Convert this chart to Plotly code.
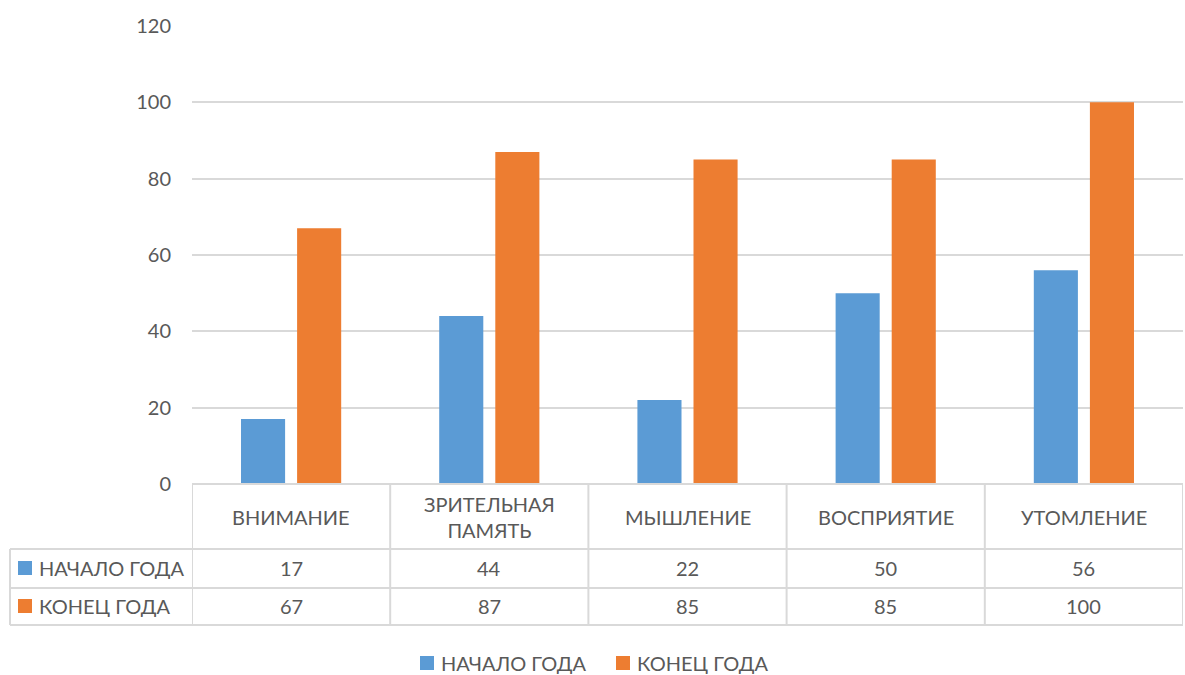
import plotly.graph_objects as go

categories = ["ВНИМАНИЕ", "ЗРИТЕЛЬНАЯ ПАМЯТЬ", "МЫШЛЕНИЕ", "ВОСПРИЯТИЕ", "УТОМЛЕНИЕ"]
series_names = ["НАЧАЛО ГОДА", "КОНЕЦ ГОДА"]
start_values = [17, 44, 22, 50, 56]
end_values = [67, 87, 85, 85, 100]
y_ticks = [0, 20, 40, 60, 80, 100, 120]

colors = ["#5B9BD5", "#ED7D31"]
TXT = "#595959"
GRID = "#D9D9D9"
FONT = "Lato"
FS = 20

W, H = 1185, 675
# plot area in reference pixels
L, R, T, B = 192, 1183, 26, 484


def px(x):
    return (x - L) / (R - L)


def py(y):
    return (B - y) / (B - T)


fig = go.Figure()
for name, vals, c in zip(series_names, [start_values, end_values], colors):
    fig.add_trace(go.Bar(x=list(range(len(categories))), y=vals, name=name,
                         marker=dict(color=c, line=dict(width=0))))

shapes = []
line = dict(color=GRID, width=2)
shapes.append(dict(type="line", xref="paper", yref="paper", x0=0, x1=1,
                   y0=py(484), y1=py(484), line=line, layer="above"))
for i in range(len(categories) + 1):
    shapes.append(dict(type="line", xref="x", yref="paper", x0=i - 0.5, x1=i - 0.5,
                       y0=py(484), y1=py(625), line=line))
shapes.append(dict(type="line", xref="paper", yref="paper", x0=px(10), x1=px(10),
                   y0=py(549), y1=py(625), line=line))
for yy in (549, 588, 625):
    shapes.append(dict(type="line", xref="paper", yref="paper", x0=px(10), x1=1,
                       y0=py(yy), y1=py(yy), line=line))

annotations = []
# header row with category names
for i, cat in enumerate(categories):
    text = cat.replace(" ", "<br>") if len(cat) > 12 else cat
    annotations.append(dict(x=i, xref="x", y=py(517), yref="paper", text=text,
                            showarrow=False, xanchor="center", yanchor="middle",
                            font=dict(family=FONT, size=FS, color=TXT)))
# data-table rows
row_centers = [568, 606]
for name, vals, c, rc in zip(series_names, [start_values, end_values], colors, row_centers):
    shapes.append(dict(type="rect", xref="paper", yref="paper", x0=px(18), x1=px(32),
                       y0=py(rc - 7), y1=py(rc + 7), fillcolor=c, line=dict(width=0)))
    annotations.append(dict(x=px(37), xref="paper", y=py(rc), yref="paper", text=name,
                            showarrow=False, xanchor="left", yanchor="middle",
                            font=dict(family=FONT, size=FS, color=TXT)))
    for i, v in enumerate(vals):
        annotations.append(dict(x=i, xref="x", y=py(rc), yref="paper", text=str(v),
                                showarrow=False, xanchor="center", yanchor="middle",
                                font=dict(family=FONT, size=FS, color=TXT)))

# bottom legend (drawn so it does not push the plot margins)
legend_x = [420, 616]
LEG_Y = 663
for name, c, lx in zip(series_names, colors, legend_x):
    shapes.append(dict(type="rect", xref="paper", yref="paper", x0=px(lx), x1=px(lx + 14),
                       y0=py(LEG_Y - 7), y1=py(LEG_Y + 7), fillcolor=c, line=dict(width=0)))
    annotations.append(dict(x=px(lx + 19), xref="paper", y=py(LEG_Y), yref="paper", text=name,
                            showarrow=False, xanchor="left", yanchor="middle",
                            font=dict(family=FONT, size=FS, color=TXT)))

fig.update_layout(
    width=W, height=H,
    margin=dict(l=L, r=W - R, t=T, b=H - B, pad=0),
    paper_bgcolor="white", plot_bgcolor="white",
    barmode="group", bargap=0.434, bargroupgap=0.214,
    font=dict(family=FONT, size=FS, color=TXT),
    showlegend=False,
    xaxis=dict(range=[-0.5, len(categories) - 0.5], showticklabels=False, showgrid=False,
               zeroline=False, showline=False, ticks=""),
    yaxis=dict(range=[0, 120], tickvals=y_ticks, showgrid=True, gridcolor=GRID, gridwidth=2,
               zeroline=False, showline=False, ticks="", ticklabelstandoff=20,
               tickfont=dict(family=FONT, size=FS, color=TXT)),
    shapes=shapes, annotations=annotations,
)

page_css = (
    "document.documentElement.style.margin='0';"
    "document.body.style.margin='0';"
)
fig.write_html("out.html", post_script=page_css, config={"displayModeBar": False})
